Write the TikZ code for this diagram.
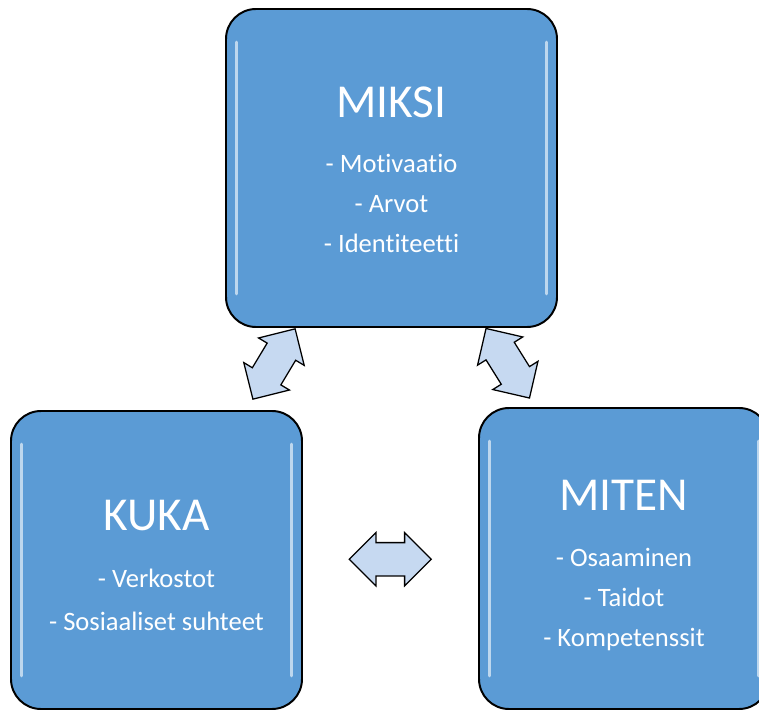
\documentclass[tikz,border=0pt]{standalone}
\usepackage{fontspec}
\setmainfont{Carlito}[Ligatures=NoCommon]
\usetikzlibrary{calc,positioning,shapes.arrows}

\definecolor{boxblue}{HTML}{5B9BD5}
\definecolor{arrowblue}{HTML}{C6D9F1}

\begin{document}
\begin{tikzpicture}[
    font=\fontsize{18.9}{28.45}\selectfont,
    box/.style={
        rectangle,
        draw=black,
        line width=1.4pt,
        rounded corners=0.75cm,
        fill=boxblue
    },
    boxtext/.style={
        text=white,
        align=center,
        inner sep=0pt
    },
    gloss/.style={
        draw=white,
        line width=2pt,
        opacity=0.6,
        line cap=round
    },
    link/.style={
        double arrow,
        draw=black,
        line width=0.9pt,
        fill=arrowblue,
        minimum height=2.05cm,
        minimum width=1.3cm,
        double arrow head extend=0.25cm,
        inner xsep=0pt,
        inner ysep=0.4cm
    }
]

\clip (0,0) rectangle (18.975,17.775);

% =========================================================
% LAATIKOT
% =========================================================

\node[box, minimum width=8.275cm, minimum height=7.95cm] (miksi) at (9.7875,13.575) {};
\node[box, minimum width=7.275cm, minimum height=7.45cm] (kuka) at (3.9125,3.775) {};
\node[box, minimum width=7.25cm, minimum height=7.525cm] (miten) at (15.6,3.8125) {};

% kiiltoreunat
\foreach \b in {miksi,kuka,miten}{
    \draw[gloss] ([shift={(0.29,-0.85)}]\b.north west) -- ([shift={(0.29,0.85)}]\b.south west);
    \draw[gloss] ([shift={(-0.29,-0.85)}]\b.north east) -- ([shift={(-0.29,0.85)}]\b.south east);
}

% tekstit
\node[boxtext] (miksitext) at ([yshift=-0.05cm]miksi.center)
{{\fontsize{33.6}{40}\selectfont MIKSI}\\[11pt]
 - Motivaatio\\ - Arvot\\ - Identiteetti};

\node[boxtext, font=\fontsize{18.9}{29.9}\selectfont] (kukatext) at ([yshift=-0.13cm]kuka.center)
{{\fontsize{33.6}{40}\selectfont KUKA}\\[11pt]
 - Verkostot\\ - Sosiaaliset suhteet};

\node[boxtext] (mitentext) at ([yshift=-0.17cm]miten.center)
{{\fontsize{33.6}{40}\selectfont MITEN}\\[11pt]
 - Osaaminen\\ - Taidot\\ - Kompetenssit};

% =========================================================
% NUOLET
% =========================================================

\node[link, rotate=59] (kukamiksi) at ($(kuka)!0.5!(miksi)$) {};
\node[link, rotate=-58] (miksimiten) at ($(miksi)!0.5!(miten)$) {};
\node[link] (kukamiten) at ($(kuka)!0.5!(miten)$) {};

\end{tikzpicture}
\end{document}
